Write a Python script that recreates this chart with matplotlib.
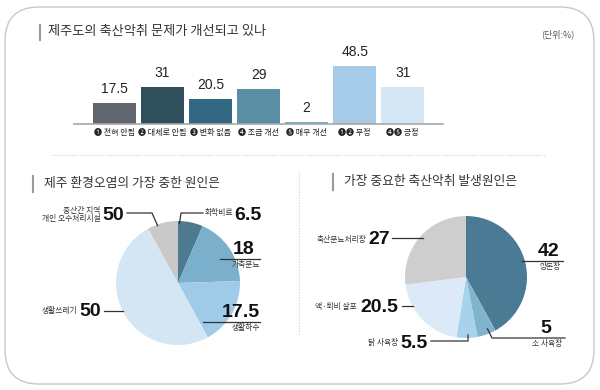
import numpy as np
import matplotlib
matplotlib.use('Agg')
import matplotlib.pyplot as plt
from matplotlib.patches import FancyBboxPatch
from matplotlib.lines import Line2D
from matplotlib.transforms import IdentityTransform

plt.rcParams['font.family'] = ['Noto Sans CJK KR', 'DejaVu Sans']

W, H = 600, 390

# ---------------- data ----------------
bar_labels = ['❶ 전혀 안됨', '❷ 대체로 안됨', '❸ 변화 없음', '❹ 조금 개선',
              '❺ 매우 개선', '❶❷ 부정', '❹❺ 긍정']
bar_values = [17.5, 31, 20.5, 29, 2, 48.5, 31]
bar_colors = ['#5f666d', '#2f4f5c', '#336882', '#5a8ea5', '#78aac4', '#a6cbe8', '#d5e6f5']

env_labels = ['화학비료', '가축분뇨', '생활하수', '생활쓰레기', '중산간 지역\n개인 오수처리시설']
env_values = [6.5, 18, 17.5, 50, 8]
env_value_text = ['6.5', '18', '17.5', '50', '50']
env_colors = ['#4d7a8f', '#7ab0cc', '#a0cbe8', '#d4e6f3', '#c9c9c9']

odor_labels = ['양돈장', '소 사육장', '닭 사육장', '액·퇴비 살포', '축산분뇨처리장']
odor_values = [42, 5, 5.5, 20.5, 27]
odor_colors = ['#4b7b94', '#80b4cc', '#a6d2ee', '#dbeaf6', '#cecece']

title_main = '제주도의 축산악취 문제가 개선되고 있나'
title_unit = '(단위:%)'
title_left = '제주 환경오염의 가장 중한 원인은'
title_right = '가장 중요한 축산악취 발생원인은'

NUMFONT = ['Liberation Sans', 'DejaVu Sans']

fig = plt.figure(figsize=(W / 100, H / 100), dpi=100)
fig.patch.set_facecolor('white')
renderer = fig.canvas.get_renderer()


def fx(x):
    return x / W


def fy(y):
    return 1 - y / H


def T(x, y, s, **kw):
    kw.setdefault('va', 'center')
    return fig.text(fx(x), fy(y), s, **kw)


def left_edge(t):
    bb = t.get_window_extent(renderer=renderer)
    return bb.x0


def L(xs, ys, **kw):
    kw.setdefault('color', '#333333')
    kw.setdefault('lw', 0.9)
    fig.add_artist(Line2D([fx(v) for v in xs], [fy(v) for v in ys],
                          transform=fig.transFigure, **kw))


def add_axes_px(left, top, right, bottom):
    return fig.add_axes([fx(left), fy(bottom), (right - left) / W, (bottom - top) / H])


# frame
frame = FancyBboxPatch((5, 6), 589, 377, boxstyle='round,pad=0,rounding_size=34',
                       transform=IdentityTransform(), facecolor='none',
                       edgecolor='#c8c8c8', lw=1.0)
fig.add_artist(frame)

# titles
L([40, 40], [25, 40], color='#9a9a9a', lw=1.5)
T(48, 32, title_main, fontsize=9.5, color='#333333', ha='left')
T(575, 34, title_unit, fontsize=6.5, color='#555555', ha='right')

# ---------------- bar chart ----------------
axb = add_axes_px(74, 52, 443, 124)
x = np.arange(len(bar_values))
axb.bar(x, bar_values, width=0.9, color=bar_colors, edgecolor='none')
axb.set_xlim(-0.844, 6.84)
axb.set_ylim(0, 60)
for s in ['top', 'left', 'right']:
    axb.spines[s].set_visible(False)
axb.spines['bottom'].set_color('#a8a8a8')
axb.spines['bottom'].set_linewidth(1.2)
axb.set_yticks([])
axb.set_xticks(x)
axb.set_xticklabels(bar_labels, fontsize=5.8, color='#222222')
axb.tick_params(axis='x', length=0, pad=3)
for xi, v in zip(x, bar_values):
    axb.annotate(f'{v:g}', (xi, v), xytext=(0, 5), textcoords='offset points',
                 ha='center', va='bottom', fontsize=10, family=NUMFONT, color='#222222')

# separators
L([52, 545], [155, 155], color='#cfcfcf', lw=0.8, ls=(0, (1, 1.5)))
L([299, 299], [172, 336], color='#cfcfcf', lw=0.8, ls=(0, (1, 1.5)))

# subtitles
L([33, 33], [176, 192], color='#9a9a9a', lw=1.5)
T(44, 184, title_left, fontsize=9.2, color='#333333', ha='left')
L([333, 333], [174, 190], color='#9a9a9a', lw=1.5)
T(344, 182, title_right, fontsize=9.2, color='#333333', ha='left')


# ---------------- pies ----------------
def make_pie(cx, cy, r, values, colors):
    ax = add_axes_px(cx - r, cy - r, cx + r, cy + r)
    wedges, _ = ax.pie(values, colors=colors, startangle=90, counterclock=False,
                       radius=1, wedgeprops=dict(linewidth=0, edgecolor='none'))
    ax.set_xlim(-1, 1)
    ax.set_ylim(-1, 1)
    ax.set_aspect('auto')
    ax.axis('off')
    return wedges


def wedge_point(cx, cy, r, w, t, rf):
    a = np.deg2rad(w.theta1 + t * (w.theta2 - w.theta1))
    return cx + r * rf * np.cos(a), cy - r * rf * np.sin(a)


def leader(cx, cy, r, w, t, rf, pts):
    px, py = wedge_point(cx, cy, r, w, t, rf)
    xs, ys = [px], [py]
    for (qx, qy) in pts:
        xs.append(qx)
        ys.append(py if qy is None else qy)
    L(xs, ys)
    return py


BIG = dict(family=NUMFONT, fontweight='bold', fontsize=14, color='#111111')
SMALL = dict(fontsize=5.6, color='#333333')


def num_then_label(xr, y, num, label, ylab=None, gap=2, lab_kw=None):
    t = T(xr, y, num, ha='right', **BIG)
    x0 = left_edge(t)
    kw = dict(SMALL)
    if lab_kw:
        kw.update(lab_kw)
    fig.text((x0 - gap) / W, fy(y if ylab is None else ylab), label,
             ha='right', va='center', **kw)


# left pie
cxL, cyL, rL = 178, 283, 62
wl = make_pie(cxL, cyL, rL, env_values, env_colors)

# 화학비료
leader(cxL, cyL, rL, wl[0], 0.94, 0.96, [(181, 213), (203, 213)])
T(205, 213, env_labels[0], ha='left', **SMALL)
T(234, 215, env_value_text[0], ha='left', **BIG)
# 가축분뇨
yy = leader(cxL, cyL, rL, wl[1], 0.43, 0.78, [(260, None)])
T(254, yy - 1, env_value_text[1], ha='right', va='bottom', **BIG)
T(260, yy + 6, env_labels[1], ha='right', **SMALL)
# 생활하수
yy = leader(cxL, cyL, rL, wl[2], 0.06, 0.75, [(260, None)])
T(260, yy - 1, env_value_text[2], ha='right', va='bottom', **BIG)
T(260, yy + 6, env_labels[2], ha='right', **SMALL)
# 생활쓰레기
yy = leader(cxL, cyL, rL, wl[3], 0.49, 1.0, [(104, None)])
num_then_label(101, yy, env_value_text[3], env_labels[3])
# 중산간 지역 개인 오수처리시설
leader(cxL, cyL, rL, wl[4], 0.68, 0.98, [(152, 213), (127, 213)])
num_then_label(124, 215, env_value_text[4], env_labels[4],
               lab_kw=dict(linespacing=1.0))

# right pie
cxR, cyR, rR = 466, 277, 61
wr = make_pie(cxR, cyR, rR, odor_values, odor_colors)

# 양돈장
yy = leader(cxR, cyR, rR, wr[0], 0.51, 0.95, [(563, None)])
T(559, yy - 1, f'{odor_values[0]:g}', ha='right', va='bottom', **BIG)
T(561, yy + 6, odor_labels[0], ha='right', **SMALL)
# 소 사육장
leader(cxR, cyR, rR, wr[1], 0.65, 0.92, [(492, 338), (565, 338)])
T(551, 337, f'{odor_values[1]:g}', ha='right', va='bottom', **BIG)
T(562, 344, odor_labels[1], ha='right', **SMALL)
# 닭 사육장
leader(cxR, cyR, rR, wr[2], 0.56, 0.95, [(468, 341), (431, 341)])
num_then_label(428, 343, f'{odor_values[2]:g}', odor_labels[2], gap=3)
# 액·퇴비 살포
yy = leader(cxR, cyR, rR, wr[3], 0.29, 0.99, [(402, None)])
num_then_label(398, 307, f'{odor_values[3]:g}', odor_labels[3], gap=3)
# 축산분뇨처리장
yy = leader(cxR, cyR, rR, wr[4], 0.49, 0.95, [(392, None)])
num_then_label(390, 240, f'{odor_values[4]:g}', odor_labels[4])

fig.savefig('out.png', dpi=100, facecolor='white')
